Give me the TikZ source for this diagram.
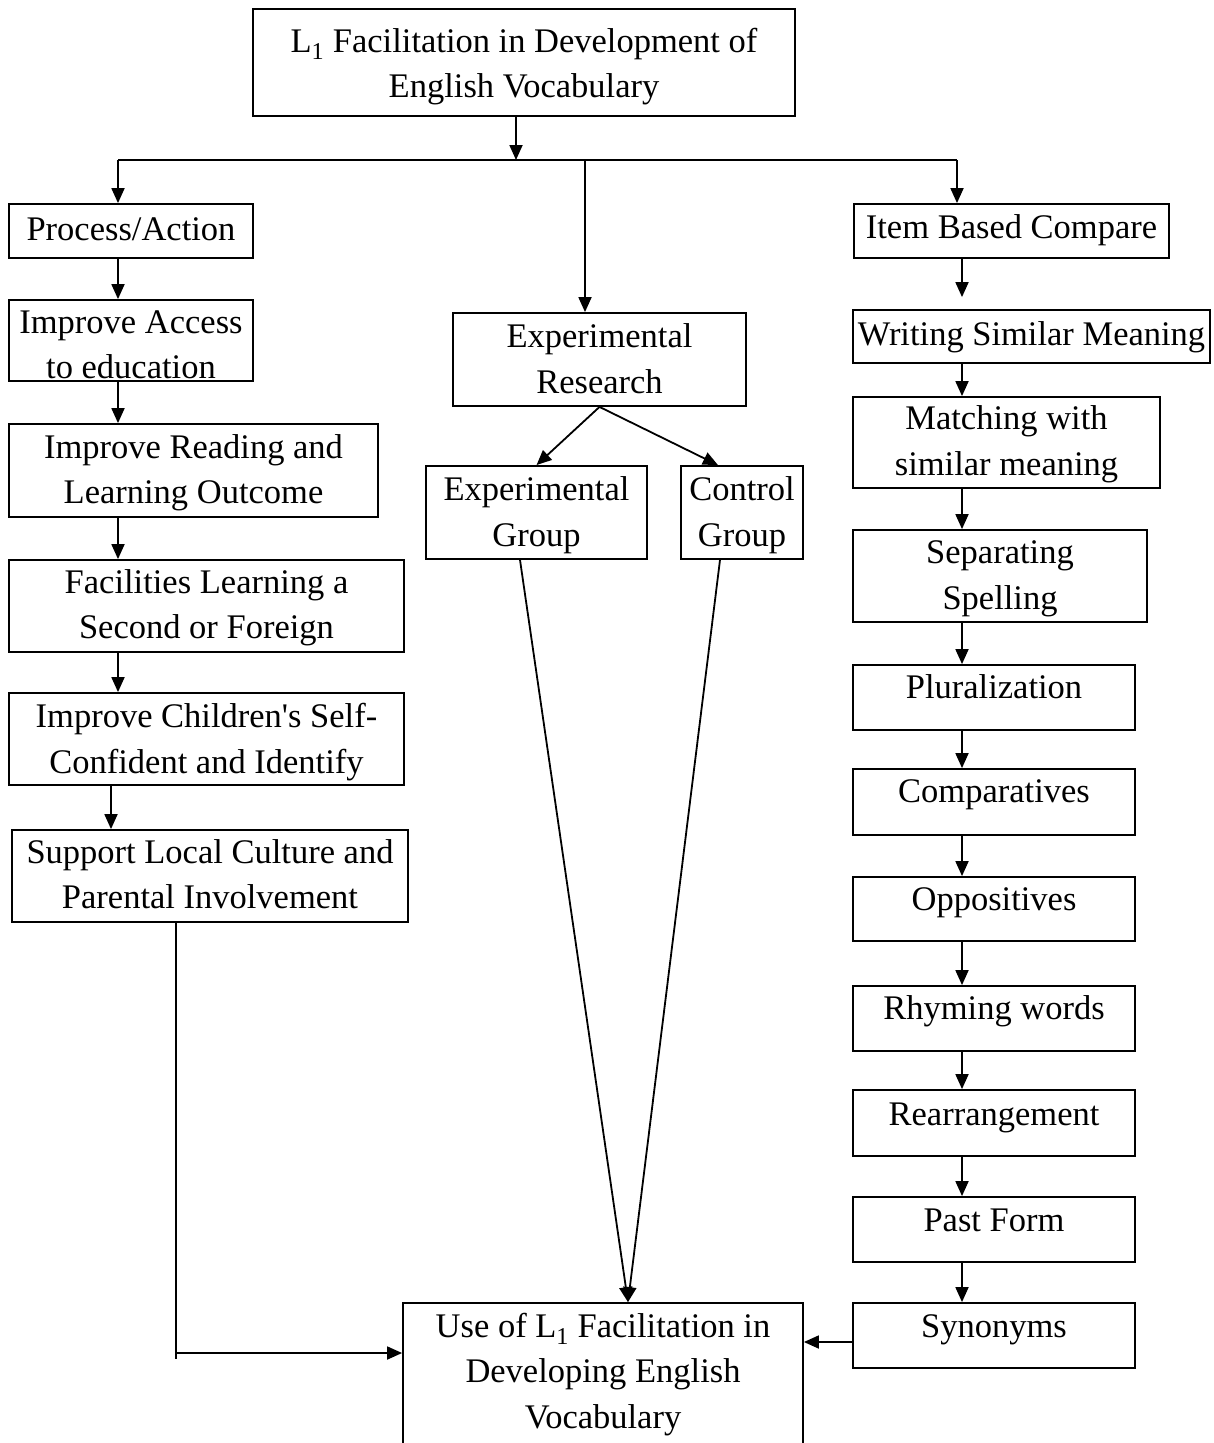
\documentclass[tikz,border=0pt]{standalone}
\usepackage{fontspec}
\setmainfont{Liberation Serif}
\usetikzlibrary{arrows.meta}
\newcommand\mystrut{\rule[-10.6pt]{0pt}{45.5pt}}
\newcommand\mybox[7]{%
  \node[box, minimum width={#4-#2}, minimum height={#5-#3}] (#1) at ({(#2+#4)/2},{(#3+#5)/2}) {};
  \node[txt] (#1t) at ({(#2+#4)/2},#6) {#7};}
\begin{document}
\begin{tikzpicture}[x=1pt,y=-1pt,
  box/.style={draw, line width=1.8pt, inner sep=0pt},
  txt/.style={align=center, inner sep=0pt, font=\fontsize{34.5}{45.5}\selectfont,
    execute at begin node=\mystrut, execute at end node=\mystrut},
  arr/.style={line width=1.8pt, -{Triangle[length=15pt,width=13pt]}},
  ln/.style={line width=1.8pt}]
\useasboundingbox (0,0) rectangle (1213,1443);
\clip (0,0) rectangle (1213,1443);
\fill[white] (0,0) rectangle (1213,1443);

% top
\mybox{top}{253}{9}{795}{116}{68}{L\textsubscript{1} Facilitation in Development of\\English Vocabulary}
% left column
\mybox{proc}{9}{204}{253}{258}{228}{Process/Action}
\mybox{acc}{9}{300}{253}{381}{350}{Improve Access\\to education}
\mybox{read}{9}{424}{378}{517}{474.5}{Improve Reading and\\Learning Outcome}
\mybox{fac}{9}{560}{404}{652}{609.5}{Facilities Learning a\\Second or Foreign}
\mybox{conf}{9}{693}{404}{785}{743.5}{Improve Children\textquotesingle s Self-\\Confident and Identify}
\mybox{sup}{12}{830}{408}{922}{879.5}{Support Local Culture and\\Parental Involvement}
% middle
\mybox{res}{453}{313}{746}{406}{364}{Experimental\\Research}
\mybox{eg}{426}{466}{647}{559}{517}{Experimental\\Group}
\mybox{cg}{681}{466}{803}{559}{517}{Control\\Group}
\mybox{use}{403}{1303}{803}{1470}{1376}{Use of L\textsubscript{1} Facilitation in\\Developing English\\Vocabulary}
% right column
\mybox{item}{854}{204}{1169}{258}{226}{Item Based Compare}
\mybox{wsm}{853}{310}{1210}{363}{333}{Writing Similar Meaning}
\mybox{match}{853}{397}{1160}{488}{446}{Matching with\\similar meaning}
\mybox{sep}{853}{530}{1147}{622}{580.5}{Separating\\Spelling}
\mybox{plur}{853}{665}{1135}{730}{686}{Pluralization}
\mybox{comp}{853}{769}{1135}{835}{790}{Comparatives}
\mybox{opp}{853}{877}{1135}{941}{898}{Oppositives}
\mybox{rhym}{853}{986}{1135}{1051}{1007}{Rhyming words}
\mybox{rear}{853}{1090}{1135}{1156}{1113}{Rearrangement}
\mybox{past}{853}{1197}{1135}{1262}{1219}{Past Form}
\mybox{syn}{853}{1303}{1135}{1368}{1325}{Synonyms}

% helper coordinates
\coordinate (h) at (0,160);
\coordinate (xT) at (516,0);
\coordinate (xL) at (118,0);
\coordinate (xL2) at (111,0);
\coordinate (xM) at (585,0);
\coordinate (xRt) at (957,0);
\coordinate (xR) at (962,0);
\coordinate (xS) at (176,0);
\coordinate (yU) at (0,1353);
\coordinate (yTick) at (0,1359);
\coordinate (ySyn) at (0,1342);
\coordinate (xEG) at (520,0);
\coordinate (xCG) at (720,0);
\coordinate (xCGn) at (718,0);
\coordinate (xB) at (628,0);

% top distribution
\draw[arr] (top.south -| xT) -- (xT |- h);
\draw[ln] (xL |- h) -- (xRt |- h);
\draw[arr] (xL |- h) -- (proc.north -| xL);
\draw[arr] (xM |- h) -- (res.north -| xM);
\draw[arr] (xRt |- h) -- (item.north -| xRt);

% left column
\draw[arr] (proc.south -| xL) -- (acc.north -| xL);
\draw[arr] (acc.south -| xL) -- (read.north -| xL);
\draw[arr] (read.south -| xL) -- (fac.north -| xL);
\draw[arr] (fac.south -| xL) -- (conf.north -| xL);
\draw[arr] (conf.south -| xL2) -- (sup.north -| xL2);
\draw[ln] (sup.south -| xS) -- (xS |- yTick);
\draw[arr] (xS |- yU) -- (use.west |- yU);

% middle
\draw[arr] (res.south) -- (eg.north);
\draw[arr] (res.south) -- (cg.north -| xCGn);
\draw[arr] (eg.south -| xEG) -- (use.north -| xB);
\draw[arr] (cg.south -| xCG) -- (use.north -| xB);

% right column
\draw[arr, shorten >=12pt] (item.south -| xR) -- (wsm.north -| xR);
\draw[arr] (wsm.south -| xR) -- (match.north -| xR);
\draw[arr] (match.south -| xR) -- (sep.north -| xR);
\draw[arr] (sep.south -| xR) -- (plur.north -| xR);
\draw[arr] (plur.south -| xR) -- (comp.north -| xR);
\draw[arr] (comp.south -| xR) -- (opp.north -| xR);
\draw[arr] (opp.south -| xR) -- (rhym.north -| xR);
\draw[arr] (rhym.south -| xR) -- (rear.north -| xR);
\draw[arr] (rear.south -| xR) -- (past.north -| xR);
\draw[arr] (past.south -| xR) -- (syn.north -| xR);
\draw[arr] (syn.west |- ySyn) -- (use.east |- ySyn);
\end{tikzpicture}
\end{document}
